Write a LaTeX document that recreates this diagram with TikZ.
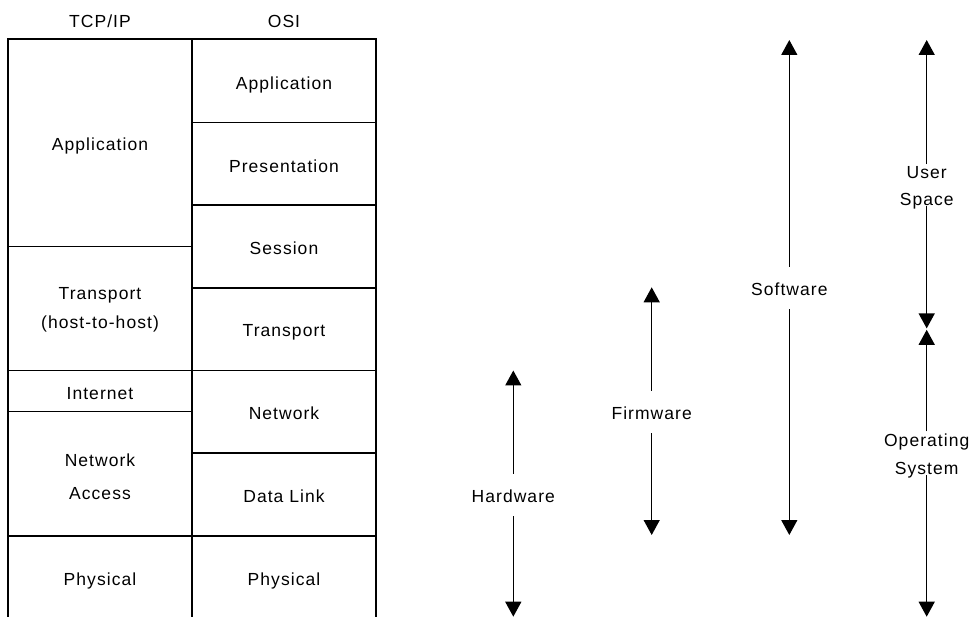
\documentclass[tikz,border=0pt]{standalone}
\usepackage{fontspec}
\setmainfont{Liberation Sans}[LetterSpace=6]
\usetikzlibrary{arrows.meta}
\begin{document}
\begin{tikzpicture}[x=1pt,y=-1pt,
  txt/.style={font=\fontsize{17.5}{27}\selectfont, inner sep=0pt, anchor=base},
  gridline/.style={line width=1.3pt},
  lab/.style={font=\fontsize{17.5}{27}\selectfont, inner xsep=2pt, inner ysep=13.3pt, text height=15.7pt, text depth=0pt},
  lab2/.style={font=\fontsize{17.5}{27}\selectfont, align=center, inner xsep=2pt, inner ysep=2pt},
  arr/.style={line width=1.4pt, -{Triangle[width=16pt,length=15pt]}}]
\useasboundingbox (0,0) rectangle (972,617);

% ---- table grid ----
\draw[gridline, line join=miter] (8,617) -- (8,39) -- (376,39) -- (376,617);
\draw[gridline] (192,39) -- (192,617);
\draw[gridline] (8,246.5) -- (192,246.5);
\draw[gridline] (8,370.5) -- (376,370.5);
\draw[gridline] (8,411.5) -- (192,411.5);
\draw[gridline] (8,536) -- (376,536);
\draw[gridline] (192,122.5) -- (376,122.5);
\draw[gridline] (192,205) -- (376,205);
\draw[gridline] (192,288) -- (376,288);
\draw[gridline] (192,453) -- (376,453);

% ---- headers ----
\node[txt] (htcp) at (100,27.7) {TCP/IP};
\node[txt] (hosi) at (284,27.7) {OSI};

% ---- TCP/IP column ----
\node[txt] (tapp) at (100,151) {Application};
\node[txt] (ttr1) at (100,300) {Transport};
\node[txt] (ttr2) at (100,328.5) {(host-to-host)};
\node[txt] (tint) at (100,400) {Internet};
\node[txt] (tna1) at (100,466) {Network};
\node[txt] (tna2) at (100,499.3) {Access};
\node[txt] (tphy) at (100,585) {Physical};

% ---- OSI column ----
\node[txt] (oapp) at (284,89.7) {Application};
\node[txt] (opre) at (284,172.3) {Presentation};
\node[txt] (oses) at (284,255) {Session};
\node[txt] (otra) at (284,336.7) {Transport};
\node[txt] (onet) at (284,420) {Network};
\node[txt] (odat) at (284,502.7) {Data Link};
\node[txt] (ophy) at (284,585) {Physical};

% ---- arrows ----
\node[lab] (hw) at (513.3,494.85) {Hardware};
\coordinate (hwt) at (513.3,370.5);
\coordinate (hwb) at (513.3,616.7);
\draw[arr] (hw) -- (hwt);
\draw[arr] (hw) -- (hwb);

\node[lab] (fw) at (651.7,412.15) {Firmware};
\coordinate (fwt) at (651.7,287.3);
\coordinate (fwb) at (651.7,535);
\draw[arr] (fw) -- (fwt);
\draw[arr] (fw) -- (fwb);

\node[lab] (sw) at (789.3,288.15) {Software};
\coordinate (swt) at (789.3,40);
\coordinate (swb) at (789.3,535);
\draw[arr] (sw) -- (swt);
\draw[arr] (sw) -- (swb);

\node[lab2] (us) at (926.7,187.6) {User\\Space};
\coordinate (ust) at (926.7,40);
\coordinate (usb) at (926.7,328.4);
\draw[arr] (us) -- (ust);
\draw[arr, shorten <=-5pt] (us) -- (usb);

\node[lab2] (os) at (926.7,455.9) {Operating\\[1.3pt]System};
\coordinate (ost) at (926.7,329.8);
\coordinate (osb) at (926.7,616.7);
\draw[arr] (os) -- (ost);
\draw[arr, shorten <=-5pt] (os) -- (osb);
\end{tikzpicture}
\end{document}
